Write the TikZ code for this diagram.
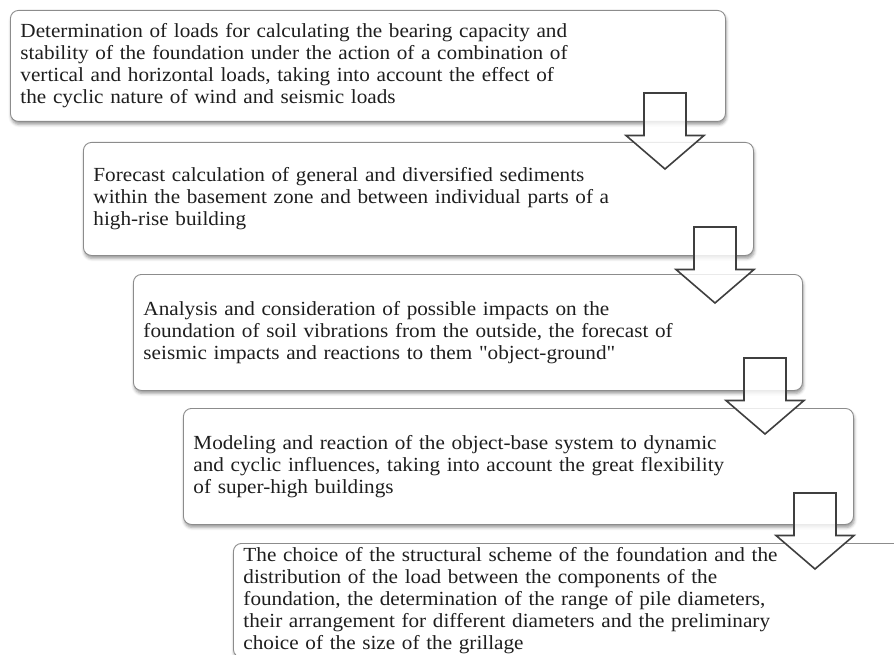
\documentclass[tikz,border=0pt]{standalone}
\usepackage{fontspec}
\setmainfont[FakeStretch=1.06]{Liberation Serif}
\newfontfamily\qfont[FakeStretch=1.06]{Liberation Serif}
\usetikzlibrary{shadows.blur}
\definecolor{boxline}{HTML}{8C8C8C}
\definecolor{arrowline}{HTML}{3F3F3F}
\definecolor{txt}{HTML}{1E1E1E}
\newcommand{\blockdown}[2]{% center x, top y
  \draw[blockarrow] (#1-21,#2) -- (#1+21,#2) -- (#1+21,#2+42.5) -- (#1+39,#2+42.5)
    -- (#1,#2+76) -- (#1-39,#2+42.5) -- (#1-21,#2+42.5) -- cycle;}
\newcommand{\jline}[1]{\makebox[553pt][s]{#1}}
\newcommand{\sq}{{\qfont"}}
\begin{document}
\begin{tikzpicture}[x=1pt,y=-1pt,
  box/.style={draw=boxline, line width=0.9pt, fill=white, rounded corners=8pt,
    anchor=north west, inner xsep=10pt, inner ysep=0pt, align=left,
    text=txt, font=\fontsize{20pt}{22pt}\selectfont,
    blur shadow={shadow xshift=0.8pt, shadow yshift=-3pt, shadow blur radius=3pt, shadow opacity=40}},
  blockarrow/.style={draw=arrowline, line width=1.6pt, fill=white, fill opacity=0.82, line join=miter}]
\useasboundingbox (0,0) rectangle (894,655);
\node[box, minimum width=715pt, minimum height=111pt, text width=695pt] (b1) at (10,10)
 {\jline{Determination of loads for calculating the bearing capacity and}\\
  \jline{stability of the foundation under the action of a combination of}\\
  \jline{vertical and horizontal loads, taking into account the effect of}\\
  the cyclic nature of wind and seismic loads};
\node[box, minimum width=670pt, minimum height=113pt, text width=650pt] (b2) at (83,142)
 {Forecast calculation of general and diversified sediments\\
  within the basement zone and between individual parts of a\\
  high-rise building};
\node[box, minimum width=669pt, minimum height=116pt, text width=649pt] (b3) at (133,274)
 {Analysis and consideration of possible impacts on the\\
  foundation of soil vibrations from the outside, the forecast of\\
  seismic impacts and reactions to them \sq object-ground\sq};
\node[box, minimum width=670pt, minimum height=116pt, text width=650pt] (b4) at (183,408)
 {Modeling and reaction of the object-base system to dynamic\\
  and cyclic influences, taking into account the great flexibility\\
  of super-high buildings};
\node[box, minimum width=670pt, minimum height=114pt, text width=650pt] (b5) at (233,543)
 {The choice of the structural scheme of the foundation and the\\
  distribution of the load between the components of the\\
  foundation, the determination of the range of pile diameters,\\
  their arrangement for different diameters and the preliminary\\
  choice of the size of the grillage};
\blockdown{665}{93}
\blockdown{715}{227}
\blockdown{765}{358}
\blockdown{815}{493}
\end{tikzpicture}
\end{document}
